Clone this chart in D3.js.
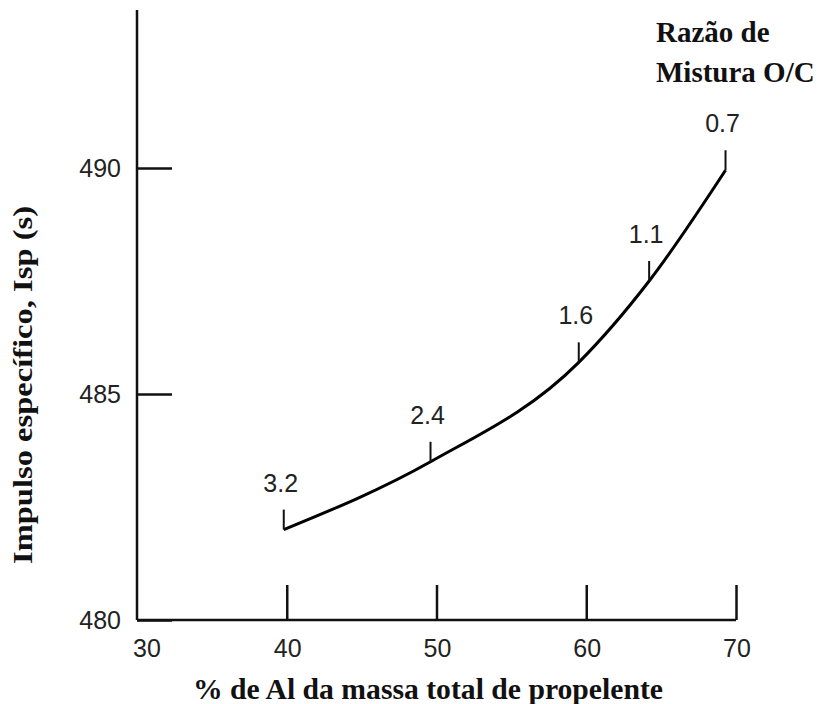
<!DOCTYPE html>
<html>
<head>
<meta charset="utf-8">
<script src="https://cdn.jsdelivr.net/npm/d3@7"></script>
<style>
  html, body { margin: 0; padding: 0; background: #fff; }
  svg { display: block; }
</style>
</head>
<body>
<svg id="chart" width="820" height="704"></svg>
<script>
// ---- data ----
const alPercent = [39.8, 49.6, 59.5, 64.2, 69.3];
const isp = [482.0, 483.5, 485.7, 487.5, 489.95];
const mixRatioLabels = ["3.2", "2.4", "1.6", "1.1", "0.7"];
const xTicks = [30, 40, 50, 60, 70];
const yTicks = [480, 485, 490];
const xTitle = "% de Al da massa total de propelente";
const yTitle = "Impulso específico, Isp (s)";
const legendTitle = ["Razão de", "Mistura O/C"];

// ---- layout ----
const svg = d3.select("#chart");
const x = d3.scaleLinear().domain([30, 70]).range([137, 736]);
const y = d3.scaleLinear().domain([480, 490]).range([620, 168]);
const sans = "'Liberation Sans', Arial, sans-serif";
const serif = "'Liberation Serif', 'Times New Roman', serif";

// y axis (line extends above top tick)
svg.append("line")
  .attr("x1", x(30)).attr("x2", x(30))
  .attr("y1", 10).attr("y2", y(480))
  .attr("stroke", "#111").attr("stroke-width", 2.5);

// y ticks
const yAxis = d3.axisRight(y).tickValues(yTicks).tickSize(35).tickFormat("");
const gy = svg.append("g").attr("transform", `translate(${x(30)},0)`).call(yAxis);
gy.select(".domain").remove();
gy.selectAll(".tick line").attr("stroke", "#111").attr("stroke-width", 2.5);

svg.append("g").selectAll("text").data(yTicks).join("text")
  .attr("x", 121).attr("y", d => y(d))
  .attr("dy", "0.36em")
  .attr("text-anchor", "end")
  .attr("font-family", sans).attr("font-size", 25)
  .attr("fill", "#222")
  .text(d => d);

// x axis
svg.append("line")
  .attr("x1", x(30)).attr("x2", x(70))
  .attr("y1", y(480)).attr("y2", y(480))
  .attr("stroke", "#111").attr("stroke-width", 2.5);

const xAxis = d3.axisTop(x).tickValues(xTicks.slice(1)).tickSize(35).tickFormat("");
const gx = svg.append("g").attr("transform", `translate(0,${y(480)})`).call(xAxis);
gx.select(".domain").remove();
gx.selectAll(".tick line").attr("stroke", "#111").attr("stroke-width", 2.5);

svg.append("g").selectAll("text").data(xTicks).join("text")
  .attr("x", (d, i) => x(d) + (i === 0 ? 10 : 1))
  .attr("y", 657)
  .attr("text-anchor", "middle")
  .attr("font-family", sans).attr("font-size", 25)
  .attr("fill", "#222")
  .text(d => d);

// curve
const pts = alPercent.map((v, i) => [v, isp[i]]);
const line = d3.line().x(d => x(d[0])).y(d => y(d[1])).curve(d3.curveMonotoneX);
svg.append("path")
  .datum(pts)
  .attr("d", line)
  .attr("fill", "none")
  .attr("stroke", "#000")
  .attr("stroke-width", 3);

// mixture ratio markers
const mk = svg.append("g");
mk.selectAll("line").data(pts).join("line")
  .attr("x1", d => x(d[0])).attr("x2", d => x(d[0]))
  .attr("y1", d => y(d[1])).attr("y2", d => y(d[1]) - 20)
  .attr("stroke", "#111").attr("stroke-width", 2);
mk.selectAll("text").data(pts).join("text")
  .attr("x", d => x(d[0]) - 3)
  .attr("y", d => y(d[1]) - 38)
  .attr("text-anchor", "middle")
  .attr("font-family", sans).attr("font-size", 25)
  .attr("fill", "#222")
  .text((d, i) => mixRatioLabels[i]);

// titles
svg.append("text")
  .attr("x", 428).attr("y", 699)
  .attr("text-anchor", "middle")
  .attr("font-family", serif).attr("font-weight", "bold").attr("font-size", 29)
  .attr("textLength", 470).attr("lengthAdjust", "spacingAndGlyphs")
  .attr("fill", "#111")
  .text(xTitle);

svg.append("text")
  .attr("transform", `translate(32,385) rotate(-90)`)
  .attr("text-anchor", "middle")
  .attr("font-family", serif).attr("font-weight", "bold").attr("font-size", 28)
  .attr("textLength", 358).attr("lengthAdjust", "spacingAndGlyphs")
  .attr("fill", "#111")
  .text(yTitle);

svg.append("g").selectAll("text").data(legendTitle).join("text")
  .attr("x", 656).attr("y", (d, i) => 42 + i * 40)
  .attr("font-family", serif).attr("font-weight", "bold").attr("font-size", 29)
  .attr("fill", "#111")
  .text(d => d);
</script>
</body>
</html>
